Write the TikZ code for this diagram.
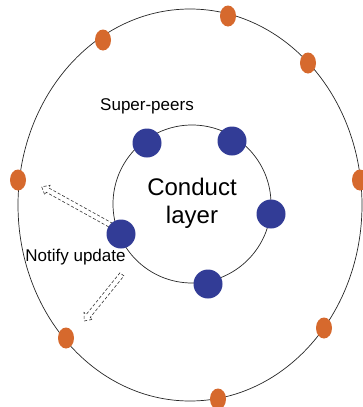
\documentclass[tikz,border=0pt]{standalone}
\usepackage{fontspec}
\setmainfont{Liberation Sans}
\usetikzlibrary{shapes.geometric,shapes.arrows}
\definecolor{peerorange}{RGB}{214,105,45}
\definecolor{superblue}{RGB}{50,60,150}
\tikzset{
  peer/.style={ellipse, fill=peerorange, minimum width=16pt, minimum height=21pt, inner sep=0pt},
  superpeer/.style={circle, fill=superblue, minimum size=29pt, inner sep=0pt},
  notify/.style={single arrow, draw=black!80, dash pattern=on 3pt off 2pt, line width=0.6pt,
    inner sep=2.2pt, single arrow head extend=3pt, single arrow tip angle=80}
}
\begin{document}
\begin{tikzpicture}[x=1pt,y=-1pt]
        \useasboundingbox (0,0) rectangle (362,407);

        % outer ring of peers
        \draw[black!85, line width=0.7pt] (190,205) ellipse (172 and 196);
        \node[peer] (p1) at (228,16) {};
        \node[peer] (p2) at (103,40) {};
        \node[peer] (p3) at (308,63) {};
        \node[peer] (p4) at (18,180) {};
        \node[peer] (p5) at (360,180) {};
        \node[peer] (p6) at (66,338) {};
        \node[peer] (p7) at (324,328) {};
        \node[peer] (p8) at (218,399) {};

        % notify arrows
        \node[notify, rotate=151, minimum height=80pt] (n1) at (78,207) {};
        \node[notify, rotate=231, minimum height=60pt] (n2) at (104,296.5) {};

        % conduct layer
        \draw[black!85, line width=0.7pt] (192,204) circle (79);
        \node[superpeer] (s1) at (147,143) {};
        \node[superpeer] (s2) at (232,141) {};
        \node[superpeer] (s3) at (271,214) {};
        \node[superpeer] (s4) at (208,284) {};
        \node[superpeer] (s5) at (121,234) {};

        \node[align=center, font=\fontsize{24}{28}\selectfont] (layer) at (192,203) {Conduct\\layer};
        \node[font=\fontsize{17}{20}\selectfont] (superlbl) at (147,106) {Super-peers};
        \node[font=\fontsize{17}{20}\selectfont] (notifylbl) at (75.5,257) {Notify update};
    \end{tikzpicture}
\end{document}
